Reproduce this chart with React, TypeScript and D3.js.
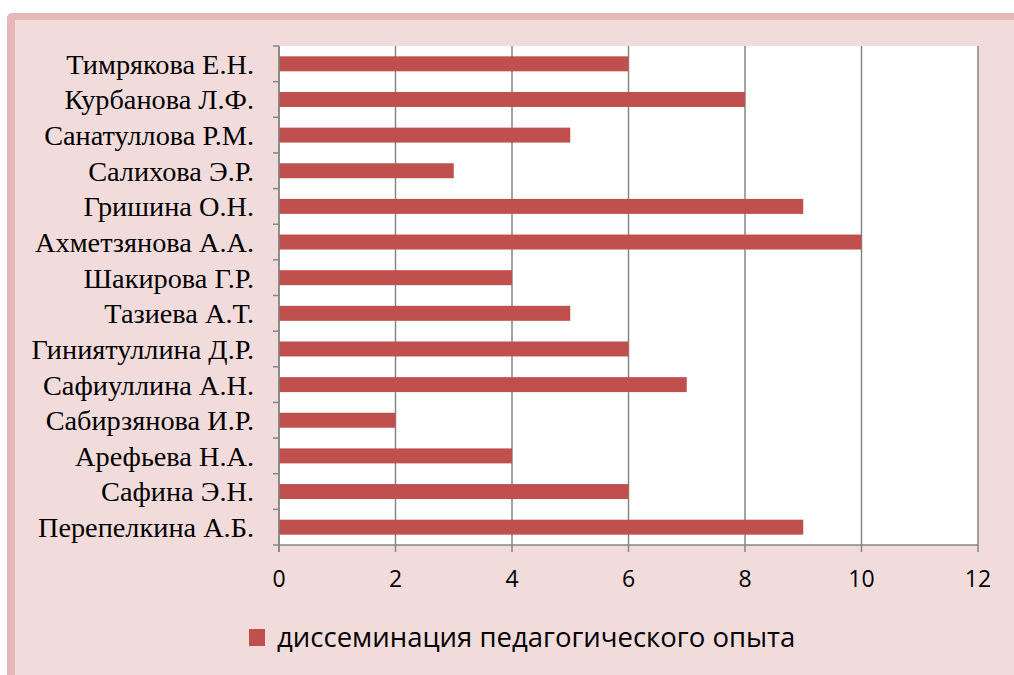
import React from "react";
import * as d3 from "d3";

const categories = [
  "Тимрякова Е.Н.",
  "Курбанова Л.Ф.",
  "Санатуллова Р.М.",
  "Салихова Э.Р.",
  "Гришина О.Н.",
  "Ахметзянова А.А.",
  "Шакирова Г.Р.",
  "Тазиева А.Т.",
  "Гиниятуллина Д.Р.",
  "Сафиуллина А.Н.",
  "Сабирзянова И.Р.",
  "Арефьева Н.А.",
  "Сафина Э.Н.",
  "Перепелкина А.Б.",
];
const values = [6, 8, 5, 3, 9, 10, 4, 5, 6, 7, 2, 4, 6, 9];
const xTicks = [0, 2, 4, 6, 8, 10, 12];
const seriesName = "диссеминация педагогического опыта";

const W = 1014;
const H = 675;
const plot = { left: 279, right: 978, top: 46, bottom: 545 };

export default function App() {
  const x = d3.scaleLinear().domain([0, 12]).range([plot.left, plot.right]);
  const y = d3
    .scaleBand<string>()
    .domain(categories)
    .range([plot.top, plot.bottom])
    .paddingInner(0.58)
    .paddingOuter(0.29);
  const band = (plot.bottom - plot.top) / categories.length;
  const boundaries = d3.range(categories.length + 1).map((i) => plot.top + i * band);
  const grid = "#868686";
  return (
    <svg
      width={W}
      height={H}
      style={{ position: "absolute", left: 0, top: 0 }}
      viewBox={`0 0 ${W} ${H}`}
    >
      <rect x={0} y={0} width={W} height={H} fill="#ffffff" />
      <rect x={7} y={13} width={W + 20} height={H + 20} rx={5} fill="#e6b9b8" />
      <rect x={15} y={20} width={W + 20} height={H + 20} fill="#f2dcdb" />
      <rect
        x={plot.left}
        y={plot.top}
        width={plot.right - plot.left}
        height={plot.bottom - plot.top}
        fill="#ffffff"
      />
      {xTicks.map((t) => (
        <line
          key={"g" + t}
          x1={x(t)}
          x2={x(t)}
          y1={plot.top}
          y2={plot.bottom + 7}
          stroke={grid}
          strokeWidth={1.5}
        />
      ))}
      {categories.map((c, i) => (
        <rect
          key={c}
          x={x(0)}
          y={y(c)!}
          width={x(values[i]) - x(0)}
          height={y.bandwidth()}
          fill="#c0504d"
        />
      ))}
      <line x1={plot.left} x2={plot.right} y1={plot.bottom} y2={plot.bottom} stroke={grid} strokeWidth={1.5} />
      <line x1={plot.left} x2={plot.left} y1={plot.top} y2={plot.bottom + 7} stroke={grid} strokeWidth={1.5} />
      {boundaries.map((b, i) => (
        <line key={"t" + i} x1={plot.left - 6} x2={plot.left} y1={b} y2={b} stroke={grid} strokeWidth={1.5} />
      ))}
      {categories.map((c) => (
        <text
          key={"l" + c}
          x={254}
          y={y(c)! + y.bandwidth() / 2}
          dy="0.35em"
          textAnchor="end"
          fontFamily="'Liberation Serif', 'DejaVu Serif', serif"
          fontSize={28.3}
          fill="#000"
        >
          {c}
        </text>
      ))}
      {xTicks.map((t) => (
        <text
          key={"x" + t}
          x={x(t)}
          y={587}
          textAnchor="middle"
          fontFamily="'Open Sans', 'Liberation Sans', sans-serif"
          fontSize={23}
          fill="#000"
        >
          {t}
        </text>
      ))}
      <rect x={249} y={629} width={16} height={17} fill="#c0504d" />
      <text
        x={277}
        y={647}
        fontFamily="'Open Sans', 'Liberation Sans', sans-serif"
        fontSize={27.5}
        fill="#000"
      >
        {seriesName}
      </text>
    </svg>
  );
}
